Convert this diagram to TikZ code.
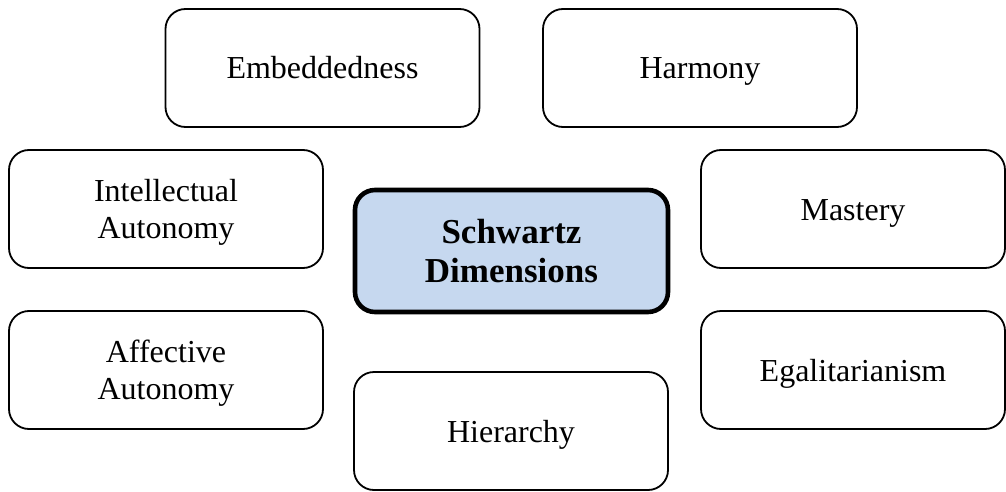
\documentclass[tikz,border=0pt]{standalone}
\usepackage{fontspec}
\setmainfont{Liberation Serif}
\definecolor{corefill}{HTML}{C6D8EF}
\begin{document}
\begin{tikzpicture}[x=1pt,y=1pt,
  dimbox/.style={draw=black, line width=1.8pt, rounded corners=20pt, fill=white,
    minimum width=314pt, minimum height=118pt, inner sep=0pt, align=center,
    text depth=0pt, font=\fontsize{32}{37}\selectfont},
  oneline/.style={text height=22pt},
  corebox/.style={dimbox, line width=4.6pt, fill=corefill, minimum width=313pt,
    minimum height=122pt, font=\fontsize{35}{39}\selectfont\bfseries}]
  \useasboundingbox (0,0) rectangle (1006,-492);
  % outer ring of value dimensions
  \node[dimbox, oneline] (emb) at (322.5,-68)  {Embeddedness};
  \node[dimbox, oneline] (har) at (700,-68)    {Harmony};
  \node[dimbox] (int) at (166,-209)   {Intellectual\\Autonomy};
  \node[dimbox, oneline, minimum width=304pt] (mas) at (853,-209) {Mastery};
  \node[dimbox] (aff) at (166,-370)   {Affective\\Autonomy};
  \node[dimbox, oneline, minimum width=304pt] (ega) at (853,-370) {Egalitarianism};
  \node[dimbox, oneline] (hie) at (511,-431)   {Hierarchy};
  % central concept
  \node[corebox] (sch) at (511.5,-251) {Schwartz\\Dimensions};
\end{tikzpicture}
\end{document}
